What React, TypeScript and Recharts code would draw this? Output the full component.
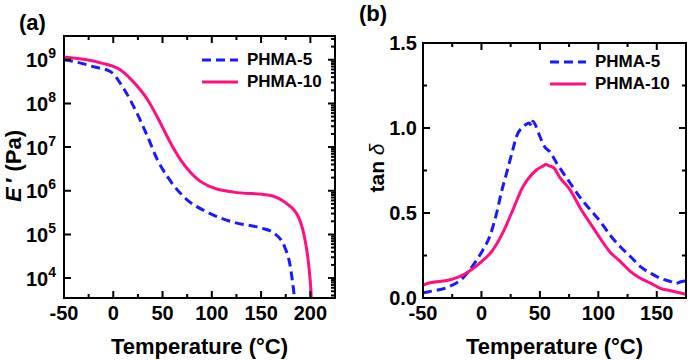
import React from "react";
import { LineChart, Line, XAxis, YAxis, Legend } from "recharts";

const FONT = "'Liberation Sans', Arial, Helvetica, sans-serif";
const BLUE = "#1a1aff";
const PINK = "#ff0f80";

// (a) storage modulus E' (Pa) vs temperature
const tempA5 = [-50, -34, -20, -3, 10, 24, 35, 45, 55, 61, 75, 96, 122, 150, 163, 174, 179, 183, 185];
const modA5 = [1.0e9, 8.5e8, 6.9e8, 5.4e8, 2.3e8, 6.0e7, 1.7e7, 5.0e6, 2.1e6, 1.35e6, 6.2e5, 3.2e5, 1.9e5, 1.4e5, 1.07e5, 5.1e4, 2.2e4, 5.2e3, 2.0e3];
const tempA10 = [-50, -13, 7, 20, 35, 48, 58, 70, 86, 99, 122, 157, 174, 188, 194, 198, 201, 202];
const modA10 = [1.15e9, 8.5e8, 5.9e8, 3.2e8, 1.2e8, 3.5e7, 1.26e7, 4.5e6, 1.8e6, 1.23e6, 9.3e5, 8.0e5, 5.5e5, 2.5e5, 8.7e4, 2.3e4, 3.5e3, 1.0e3];

// (b) tan delta vs temperature
const tempB5 = [-50, -45, -28, -16, -8, 1, 7, 13, 17, 21.5, 26, 30, 35.5, 38, 41, 43, 44, 46, 50, 54, 58.6, 64.7, 76, 84.5, 93, 101.7, 110, 119, 127.6, 136, 145, 153, 162, 166, 170.7, 175];
const tanB5 = [0.03, 0.037, 0.066, 0.117, 0.184, 0.28, 0.36, 0.5, 0.62, 0.735, 0.85, 0.95, 1.008, 1.02, 1.03, 1.01, 1.04, 1.02, 0.95, 0.89, 0.86, 0.79, 0.675, 0.59, 0.52, 0.45, 0.37, 0.3, 0.243, 0.184, 0.145, 0.116, 0.096, 0.085, 0.096, 0.1];
const tempB10 = [-50, -45, -27.6, -16, -1.7, 9.5, 18, 27, 35.5, 41, 47, 52.6, 55, 58.6, 62, 67, 76, 84.5, 93, 101.7, 110, 119, 127.6, 136, 145, 153, 162, 175];
const tanB10 = [0.075, 0.088, 0.106, 0.135, 0.204, 0.28, 0.38, 0.52, 0.655, 0.71, 0.753, 0.776, 0.785, 0.776, 0.765, 0.71, 0.635, 0.53, 0.44, 0.35, 0.27, 0.214, 0.155, 0.116, 0.086, 0.057, 0.043, 0.022];

const seriesNames = ["PHMA-5", "PHMA-10"];

// ticks
const xDomainA = [-50, 225];
const xTicksA = [-50, -25, 0, 25, 50, 75, 100, 125, 150, 175, 200, 225];
const xMajorA = [-50, 0, 50, 100, 150, 200];
const yDomainA = [3500, 3.5e9];
const yTicksA: number[] = []; // decades plus log minors (minors only drawn on the right side)
for (let e = 3; e <= 9; e++) {
  for (let k = 1; k <= 9; k++) {
    const v = k * Math.pow(10, e);
    if (v >= yDomainA[0] && v <= yDomainA[1]) yTicksA.push(v);
  }
}
const xDomainB = [-50, 175];
const xTicksB = [-50, -25, 0, 25, 50, 75, 100, 125, 150, 175];
const xMajorB = [-50, 0, 50, 100, 150];
const yDomainB = [0, 1.5];
const yTicksB = [0, 0.25, 0.5, 0.75, 1.0, 1.25, 1.5];
const yMajorB = [0, 0.5, 1.0, 1.5];

// plot box sizes (px), used to mirror ticks onto the top / right edges
const PLOT_A = { w: 271, h: 262 };
const PLOT_B = { w: 263, h: 255 };

// merge two series with different temperature grids into one table
function mergeRows(xa: number[], ya: number[], xb: number[], yb: number[]) {
  const map = new Map<number, any>();
  xa.forEach((t, i) => map.set(t, { ...(map.get(t) || { t }), s5: ya[i] }));
  xb.forEach((t, i) => map.set(t, { ...(map.get(t) || { t }), s10: yb[i] }));
  return Array.from(map.values()).sort((p, q) => p.t - q.t);
}
const rowsA = mergeRows(tempA5, modA5, tempA10, modA10);
const rowsB = mergeRows(tempB5, tanB5, tempB10, tanB10);

const INK = "#000";
const axisLine = { stroke: INK, strokeWidth: 2 };
const MAJOR = 7;
const MINOR = 4;
const TICK_W = 2;
const TICK_FONT = 20;

const isDecade = (v: number) => Math.abs(Math.log10(v) - Math.round(Math.log10(v))) < 1e-6;

function bottomTick(majors: number[], plotH: number) {
  return (p: any) => {
    const major = majors.includes(p.payload.value);
    const len = major ? MAJOR : MINOR;
    const top = p.y - plotH;
    return (
      <g>
        <path d={`M${p.x},${p.y}V${p.y - len}M${p.x},${top}V${top + len}`} stroke={INK} strokeWidth={TICK_W} fill="none" />
        {major && (
          <text x={p.x} y={p.y + 22} textAnchor="middle" fontFamily={FONT} fontWeight="bold" fontSize={TICK_FONT} fill={INK}>
            {p.payload.value}
          </text>
        )}
      </g>
    );
  };
}

const logTick = (p: any) => {
  const v = p.payload.value;
  const major = isDecade(v);
  const right = p.x + PLOT_A.w;
  const showLeft = major && v >= 1e4;
  const d = `M${right},${p.y}H${right - (major ? MAJOR : MINOR)}` + (showLeft ? `M${p.x},${p.y}H${p.x + MAJOR}` : "");
  return (
    <g>
      <path d={d} stroke={INK} strokeWidth={TICK_W} fill="none" />
      {showLeft && (
        <text x={p.x - 8} y={p.y + 7.5} textAnchor="end" fontFamily={FONT} fontWeight="bold" fontSize={TICK_FONT} fill={INK}>
          10<tspan dy={-9} fontSize={14}>{Math.round(Math.log10(v))}</tspan>
        </text>
      )}
    </g>
  );
};

const linTick = (p: any) => {
  const major = yMajorB.includes(p.payload.value);
  const len = major ? MAJOR : MINOR;
  const right = p.x + PLOT_B.w;
  return (
    <g>
      <path d={`M${p.x},${p.y}H${p.x + len}M${right},${p.y}H${right - len}`} stroke={INK} strokeWidth={TICK_W} fill="none" />
      {major && (
        <text x={p.x - 6} y={p.y + 7} textAnchor="end" fontFamily={FONT} fontWeight="bold" fontSize={TICK_FONT} fill={INK}>
          {p.payload.value.toFixed(1)}
        </text>
      )}
    </g>
  );
};

function LegendBox() {
  const rows = [
    { name: seriesNames[0], color: BLUE, dash: "9 5" },
    { name: seriesNames[1], color: PINK, dash: undefined },
  ];
  return (
    <div style={{ fontFamily: FONT, fontWeight: "bold", fontSize: 17, color: INK }}>
      {rows.map((r) => (
        <div key={r.name} style={{ display: "flex", alignItems: "center", height: 22 }}>
          <svg width={40} height={10} style={{ marginRight: 7 }}>
            <line x1={2} x2={38} y1={5} y2={5} stroke={r.color} strokeWidth={3} strokeDasharray={r.dash} />
          </svg>
          <span>{r.name}</span>
        </div>
      ))}
    </div>
  );
}

// bottom axis label: frame of the plot box, the axis title and the panel letter
const bottomLabel = (plotH: number, letter: string, lx: number, ly: number) => ({
  content: (props: any) => {
    const vb = props.viewBox || {};
    return (
      <g>
        <rect x={vb.x} y={vb.y - plotH} width={vb.width} height={plotH} fill="none" stroke={INK} strokeWidth={2} />
        <text x={vb.x + vb.width / 2} y={354} textAnchor="middle" fontFamily={FONT} fontWeight="bold" fontSize={22} fill={INK}>
          Temperature (°C)
        </text>
        <text x={lx} y={ly} fontFamily={FONT} fontWeight="bold" fontSize={22} fill={INK}>
          {letter}
        </text>
      </g>
    );
  },
});

function ModulusChart() {
  return (
    <LineChart width={345} height={360} data={rowsA} margin={{ top: 36, right: 10, bottom: 0, left: 0 }}>
      <XAxis
        dataKey="t"
        type="number"
        domain={xDomainA}
        ticks={xTicksA}
        interval={0}
        allowDataOverflow
        height={62}
        tickSize={0}
        tickMargin={0}
        tickLine={false}
        axisLine={axisLine}
        tick={bottomTick(xMajorA, PLOT_A.h)}
        label={bottomLabel(PLOT_A.h, "(a)", 19, 30)}
      />
      <YAxis
        type="number"
        scale="log"
        domain={yDomainA}
        ticks={yTicksA}
        interval={0}
        allowDataOverflow
        width={64}
        tickSize={0}
        tickMargin={0}
        tickLine={false}
        axisLine={axisLine}
        tick={logTick}
        label={{
          content: () => (
            <text
              x={13}
              y={166}
              transform="rotate(-90, 13, 166)"
              textAnchor="middle"
              dominantBaseline="central"
              fontFamily={FONT}
              fontWeight="bold"
              fontSize={22}
              fill={INK}
            >
              <tspan fontStyle="italic">E</tspan>
              <tspan>{"\u2009′ (Pa)"}</tspan>
            </text>
          ),
        }}
      />
      <Legend
        layout="horizontal"
        verticalAlign="middle"
        align="center"
        content={() => <LegendBox />}
        wrapperStyle={{ position: "absolute", left: 200, top: 49, width: 140 }}
      />
      <Line dataKey="s5" name={seriesNames[0]} type="monotone" connectNulls stroke={BLUE} strokeWidth={3} strokeDasharray="9 5" dot={false} isAnimationActive={false} />
      <Line dataKey="s10" name={seriesNames[1]} type="monotone" connectNulls stroke={PINK} strokeWidth={3} dot={false} isAnimationActive={false} />
    </LineChart>
  );
}

function TanDeltaChart() {
  return (
    <LineChart width={345} height={360} data={rowsB} margin={{ top: 43, right: 4, bottom: 0, left: 0 }}>
      <XAxis
        dataKey="t"
        type="number"
        domain={xDomainB}
        ticks={xTicksB}
        interval={0}
        allowDataOverflow
        height={62}
        tickSize={0}
        tickMargin={0}
        tickLine={false}
        axisLine={axisLine}
        tick={bottomTick(xMajorB, PLOT_B.h)}
        label={bottomLabel(PLOT_B.h, "(b)", 14, 21)}
      />
      <YAxis
        type="number"
        domain={yDomainB}
        ticks={yTicksB}
        interval={0}
        allowDataOverflow
        width={78}
        tickSize={0}
        tickMargin={0}
        tickLine={false}
        axisLine={axisLine}
        tick={linTick}
        label={{
          content: () => (
            <text
              x={31}
              y={168}
              transform="rotate(-90, 31, 168)"
              textAnchor="middle"
              dominantBaseline="central"
              fontFamily={FONT}
              fontWeight="bold"
              fontSize={21}
              fill={INK}
            >
              <tspan>{"tan "}</tspan>
              <tspan fontStyle="italic" fontWeight="normal">δ</tspan>
            </text>
          ),
        }}
      />
      <Legend
        layout="horizontal"
        verticalAlign="middle"
        align="center"
        content={() => <LegendBox />}
        wrapperStyle={{ position: "absolute", left: 203, top: 51, width: 140 }}
      />
      <Line dataKey="s5" name={seriesNames[0]} type="monotone" connectNulls stroke={BLUE} strokeWidth={3} strokeDasharray="9 5" dot={false} isAnimationActive={false} />
      <Line dataKey="s10" name={seriesNames[1]} type="monotone" connectNulls stroke={PINK} strokeWidth={3} dot={false} isAnimationActive={false} />
    </LineChart>
  );
}

export default function App() {
  return (
    <div style={{ position: "absolute", left: 0, top: 0, width: 690, height: 360, background: "#fff", display: "flex" }}>
      <ModulusChart />
      <TanDeltaChart />
    </div>
  );
}
